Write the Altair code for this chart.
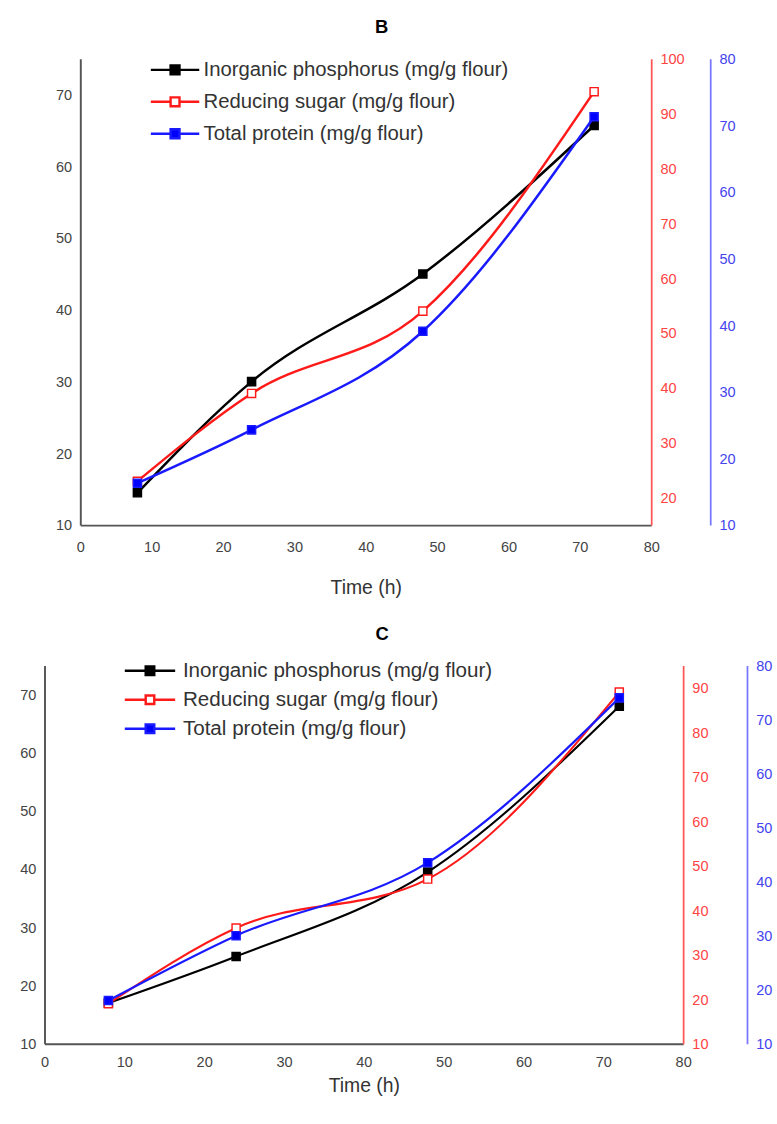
import altair as alt
import pandas as pd

# ---------------- data ----------------
time_h = [8, 24, 48, 72]
series_names = [
    "Inorganic phosphorus (mg/g flour)",
    "Reducing sugar (mg/g flour)",
    "Total protein (mg/g flour)",
]
# panel B
b_phosphorus = [14.5, 30, 45, 65.7]
b_sugar = [23, 39, 54, 94]
b_protein = [16.3, 24.3, 39.1, 71.3]
# panel C
c_phosphorus = [17, 25, 39.5, 68]
c_sugar = [19, 36, 47, 89]
c_protein = [18, 30, 43.5, 74]

x_ticks = [0, 10, 20, 30, 40, 50, 60, 70, 80]
b_left_ticks = [10, 20, 30, 40, 50, 60, 70]
b_red_ticks = [20, 30, 40, 50, 60, 70, 80, 90, 100]
b_blue_ticks = [10, 20, 30, 40, 50, 60, 70, 80]
c_left_ticks = [10, 20, 30, 40, 50, 60, 70]
c_red_ticks = [10, 20, 30, 40, 50, 60, 70, 80, 90]
c_blue_ticks = [10, 20, 30, 40, 50, 60, 70, 80]

FONT = "Liberation Sans"
LINE_COLORS = ["#000000", "#ff1a1a", "#1a1aff"]
FILL_COLORS = ["#000000", "#ffffff", "#0000ff"]
AXIS_COLORS = ["#555555", "#ff5555", "#7777ff"]
LABEL_COLORS = ["#444444", "#ff4444", "#4444ee"]


def legend_path(ext, sq):
    return f"M-{ext},0H-{sq}M{sq},0H{ext}M-{sq},-{sq}H{sq}V{sq}H-{sq}Z"


def panel(title, title_dx, title_dy, title_offset, values, domains, ticks, width, height,
          xrange, left_offset, blue_offset, label_size, legend_size,
          legend_x, legend_y, sym_w, sym_ext, sym_sq, label_off,
          xlabel_pad, xtitle_pad, line_w):
    layers = []
    for i, (name, vals) in enumerate(zip(series_names, values)):
        df = pd.DataFrame({"time": time_h, "value": vals, "series": name})
        base = alt.Chart(df)
        x_enc = alt.X(
            "time:Q",
            scale=alt.Scale(domain=[0, 80], range=xrange, nice=False),
            axis=alt.Axis(
                values=x_ticks, title="Time (h)", ticks=False,
                domainColor="#555555", domainWidth=2,
                labelColor="#444444", labelFontSize=label_size, labelFont=FONT,
                labelPadding=xlabel_pad, titleFont=FONT, titleFontSize=20,
                titleFontWeight="normal", titleColor="#333333", titlePadding=xtitle_pad,
                grid=False, labelFlush=False,
            ),
        )
        if i == 0:
            orient, off = "left", left_offset
        elif i == 1:
            orient, off = "right", 0
        else:
            orient, off = "right", blue_offset
        ax = alt.Axis(
            orient=orient, offset=off, values=ticks[i], title=None,
            ticks=False, grid=False, domainColor=AXIS_COLORS[i],
            domainWidth=2 if i == 0 else 1.8,
            labelColor=LABEL_COLORS[i], labelFontSize=label_size, labelFont=FONT,
            labelPadding=9,
        )
        y_enc = alt.Y("value:Q", scale=alt.Scale(domain=domains[i], nice=False, zero=False), axis=ax)
        line = base.mark_line(color=LINE_COLORS[i], strokeWidth=line_w, interpolate="monotone").encode(
            x=x_enc, y=y_enc
        )
        legend = alt.Legend(
            orient="none", legendX=legend_x, legendY=legend_y, title=None,
            symbolType=legend_path(sym_ext, sym_sq), symbolSize=sym_w * sym_w,
            symbolStrokeWidth=2.5,
            labelFont=FONT, labelFontSize=legend_size, labelColor="#333333",
            labelOffset=label_off, rowPadding=0, padding=0, labelLimit=600,
        )
        pts = base.mark_point(shape="square", filled=True, size=70, strokeWidth=1.5, opacity=1).encode(
            x=x_enc, y=y_enc,
            fill=alt.Fill("series:N", scale=alt.Scale(domain=series_names, range=FILL_COLORS), legend=legend),
            stroke=alt.Stroke("series:N", scale=alt.Scale(domain=series_names, range=LINE_COLORS), legend=legend),
        )
        layers.append(alt.layer(line, pts))
    return alt.layer(*layers).resolve_scale(y="independent").properties(
        width=width, height=height,
        title=alt.TitleParams(title, font=FONT, fontSize=19, fontWeight="bold", color="#000000",
                              anchor="middle", dx=title_dx, dy=title_dy, offset=title_offset),
    )


top = panel("B", 35, -4, 8, [b_phosphorus, b_sugar, b_protein],
            [[10, 75], [15, 100], [10, 80]],
            [b_left_ticks, b_red_ticks, b_blue_ticks],
            627, 482, [37, 627], -37, 61, 15, 21,
            112.4, -11, 41.7, 1.2, 0.22, 6.9, 15, 25, 2.6)

bottom = panel("C", 19, 0, 9, [c_phosphorus, c_sugar, c_protein],
               [[10, 75], [10, 95], [10, 80]],
               [c_left_ticks, c_red_ticks, c_blue_ticks],
               660, 391, [0, 660], 0, 66, 15, 21.3,
               90, -13.5, 35.4, 1.47, 0.25, 15, 12, 6, 2.2)

chart = alt.vconcat(top, bottom, spacing=28).resolve_scale(
    fill="independent", stroke="independent"
).properties(
    padding={"left": 20, "top": 0, "right": 5, "bottom": 5}
).configure(font=FONT, background="white").configure_view(stroke="transparent", strokeWidth=0)

chart.save("out.html", embed_options={"renderer": "svg", "actions": False})
